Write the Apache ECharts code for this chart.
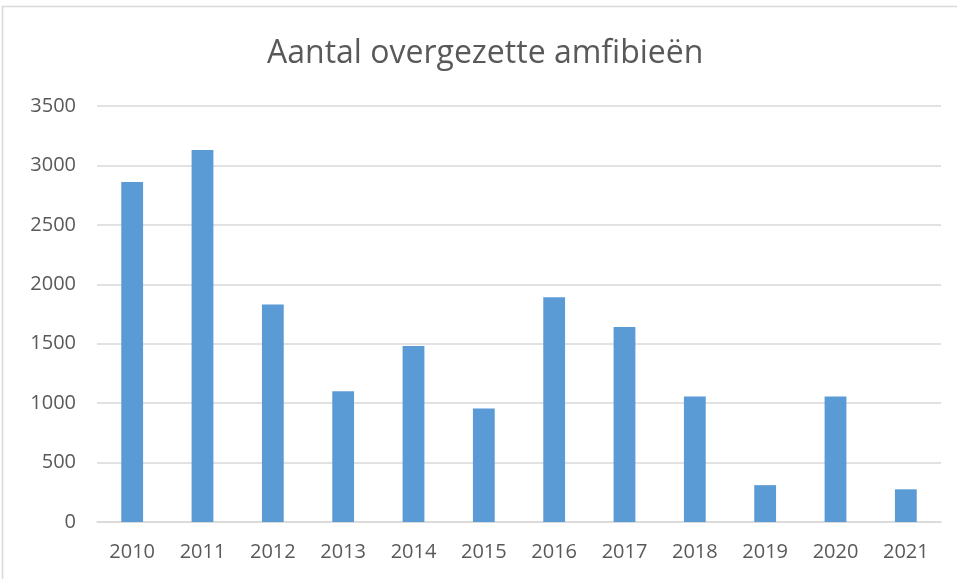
<!DOCTYPE html>
<html>
<head>
<meta charset="utf-8">
<script src="https://cdn.jsdelivr.net/npm/echarts@6/dist/echarts.min.js"></script>
<style>
html,body{margin:0;padding:0;background:#fff;}
#chart{width:957px;height:579px;}
</style>
</head>
<body>
<div id="chart"></div>
<script>
const title = "Aantal overgezette amfibieën";
const years = ["2010","2011","2012","2013","2014","2015","2016","2017","2018","2019","2020","2021"];
const counts = [2860, 3130, 1830, 1100, 1480, 955, 1890, 1640, 1055, 310, 1055, 275];
const yTicks = [0, 500, 1000, 1500, 2000, 2500, 3000, 3500];

const chart = echarts.init(document.getElementById('chart'));
chart.setOption({
  animation: false,
  backgroundColor: '#ffffff',
  graphic: [{
    type: 'rect',
    shape: {x: 2.5, y: 6.5, width: 1000, height: 1000},
    style: {fill: 'none', stroke: '#D9D9D9', lineWidth: 1.5},
    silent: true
  }],
  title: {
    text: title,
    left: 262,
    top: 33,
    textStyle: {fontFamily: 'Open Sans', fontSize: 32, fontWeight: 'normal', color: '#595959'}
  },
  grid: {left: 97, right: 16, top: 106, bottom: 57, containLabel: false},
  xAxis: {
    type: 'category',
    data: years,
    axisLine: {lineStyle: {color: '#D9D9D9', width: 1.5}},
    axisTick: {show: false},
    axisLabel: {fontFamily: 'Open Sans', fontSize: 20, color: '#595959', margin: 20}
  },
  yAxis: {
    type: 'value',
    min: yTicks[0],
    max: yTicks[yTicks.length - 1],
    interval: 500,
    axisLine: {show: false},
    axisTick: {show: false},
    splitLine: {lineStyle: {color: '#D9D9D9', width: 1.5}},
    axisLabel: {fontFamily: 'Open Sans', fontSize: 20, color: '#595959', margin: 21,
      formatter: function (v) { return String(v); }}
  },
  series: [{
    type: 'bar',
    data: counts,
    barWidth: '31%',
    itemStyle: {color: '#5B9BD5'}
  }]
});
</script>
</body>
</html>
